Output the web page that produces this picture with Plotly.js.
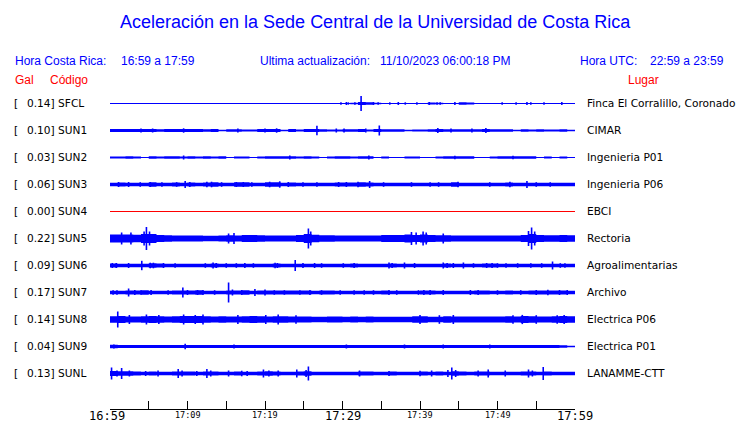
<!DOCTYPE html>
<html><head><meta charset="utf-8">
<script src="https://cdn.plot.ly/plotly-3.0.1.min.js"></script>
<style>html,body{margin:0;padding:0;background:#fff}#chart{width:740px;height:423px}</style>
</head><body><div id="chart"></div>
<script>
// ---------- data ----------
const codes = ["SFCL","SUN1","SUN2","SUN3","SUN4","SUN5","SUN6","SUN7","SUN8","SUN9","SUNL"];
const galValues = [0.14,0.10,0.03,0.06,0.00,0.22,0.09,0.17,0.14,0.04,0.13];
const places = ["Finca El Corralillo, Coronado","CIMAR","Ingenieria P01","Ingenieria P06","EBCI","Rectoria","Agroalimentarias","Archivo","Electrica P06","Electrica P01","LANAMME-CTT"];
const tickLabelMinutes = [0,10,20,30,40,50,60];
const tickLabelTexts = ["16:59","17:09","17:19","17:29","17:39","17:49","17:59"];

// per-minute envelope half-amplitude (px)
const sfclBand = [0.5,0.5,0.5,0.5,0.5,0.5,0.5,0.5,0.5,0.5, 0.5,0.5,0.5,0.5,0.5,0.5,0.5,0.5,0.5,0.5, 0.5,0.5,0.5,0.5,0.5,0.5,0.5,0.5,0.5,0.5, 0.6,0.8,1.5,1.2,0.7,0.5,0.6,0.6,0.6,0.6, 0.5,0.9,0.7,0.5,0.6,1.2,1.0,0.5,0.5,0.5, 0.6,0.5,0.6,0.6,0.6,0.5,0.6,0.5,0.6,0.5];
const sun1Band = [1.5,1.5,1.5,1.5,1.5,1.5,1.3,1.5,1.5,1.5, 1.5,1.5,1.2,1.5,0.8,1.3,1.3,0.9,0.9,1.5, 1.5,1.5,0.8,1.4,1.0,1.4,1.6,1.2,1.0,0.9, 1.3,1.3,1.5,0.9,1.4,1.3,1.2,1.2,0.8,1.0, 1.0,1.3,1.5,1.3,1.3,1.2,1.2,1.3,1.6,1.2, 1.2,1.2,0.8,1.2,1.0,1.2,1.1,1.0,1.2,0.8];
const sun2Band = [1.0,1.0,1.2,1.0,0.6,1.3,0.9,1.2,1.2,1.1, 1.3,1.0,1.2,1.0,1.3,0.6,0.9,0.9,0.6,0.9, 1.3,1.3,1.2,1.3,0.9,1.3,1.0,0.6,0.9,1.3, 1.3,1.0,1.3,1.3,0.6,0.9,0.6,0.6,0.9,0.9, 0.6,0.6,0.9,1.3,1.3,1.2,1.3,0.6,0.6,0.9, 1.2,1.3,1.2,1.3,1.2,0.6,0.9,0.6,0.9,0.6];
const sun3Band = [1.7,1.9,1.8,1.7,1.7,2.2,1.8,1.8,1.9,1.8, 1.9,1.7,1.9,2.2,1.8,1.7,2.2,2.2,1.8,1.7, 2.2,2.2,1.8,1.9,1.7,1.8,1.8,1.7,1.7,2.1, 2.1,2.0,2.2,1.9,1.7,1.8,1.7,1.7,1.8,1.7, 1.7,1.8,1.8,1.7,2.2,1.8,1.7,1.7,1.7,1.8, 1.7,2.1,1.7,1.8,1.8,1.7,1.8,1.7,1.7,1.7];
const sun4Band = [0,0,0,0,0,0,0,0,0,0, 0,0,0,0,0,0,0,0,0,0, 0,0,0,0,0,0,0,0,0,0, 0,0,0,0,0,0,0,0,0,0, 0,0,0,0,0,0,0,0,0,0, 0,0,0,0,0,0,0,0,0,0];
const sun5Band = [4.1,3.9,4.1,3.8,4.4,4.6,3.4,3.2,3.1,2.9, 2.9,3.0,2.8,2.8,2.9,3.2,3.1,3.4,3.4,3.2, 3.1,3.1,3.0,3.1,3.6,4.6,3.8,3.2,3.2,3.1, 3.1,3.1,3.0,3.1,3.1,3.4,3.4,3.6,3.9,3.6, 4.1,3.6,3.2,3.2,3.1,2.9,2.9,2.9,2.9,3.0, 2.9,3.0,3.1,3.4,4.4,3.6,3.3,3.3,3.4,3.3];
const sun6Band = [2.0,1.8,1.8,1.7,1.8,2.2,2.0,1.8,1.7,1.7, 1.7,1.7,1.8,2.0,1.7,1.7,1.8,1.8,1.7,1.7, 1.7,2.0,1.7,1.8,1.8,1.7,1.8,1.7,1.7,1.7, 1.8,2.0,1.7,1.7,1.7,1.7,2.0,1.8,1.7,1.8, 1.7,1.7,1.7,2.0,1.8,1.8,1.7,1.8,2.0,2.0, 1.8,1.7,1.8,1.7,1.8,1.7,1.8,1.8,1.8,1.7];
const sun7Band = [1.8,1.8,2.0,1.9,2.2,1.7,1.8,1.7,2.0,1.9, 2.1,2.2,1.8,1.7,1.7,2.0,2.1,2.2,1.8,1.9, 1.9,2.0,2.0,2.1,2.0,2.0,1.8,1.9,2.0,1.7, 1.7,1.8,1.7,1.7,1.8,1.9,1.7,1.7,1.7,1.7, 2.0,2.0,1.8,1.8,1.7,1.7,1.8,2.0,1.9,1.7, 1.7,1.9,1.8,1.7,2.0,2.0,2.1,2.1,2.0,1.8];
const sun8Band = [3.2,3.5,3.1,3.0,3.3,3.5,3.2,3.1,3.3,3.5, 3.5,3.6,3.2,3.0,3.2,3.1,3.0,3.2,3.4,3.2, 3.1,3.3,3.2,3.0,3.0,2.9,2.8,2.8,2.9,2.9, 2.7,2.9,2.7,3.0,2.7,2.7,2.7,2.7,2.7,3.2, 3.3,2.7,2.7,3.2,3.0,2.9,3.0,2.9,2.9,3.0, 2.9,3.2,3.0,3.5,3.3,3.0,3.0,3.3,3.5,3.2];
const sun9Band = [1.7,1.6,1.6,1.5,1.5,1.5,1.5,1.5,1.6,1.6, 1.6,1.5,1.5,1.5,1.5,1.5,1.5,1.5,1.5,1.6, 1.5,1.5,1.5,1.5,1.5,1.5,1.5,1.5,1.5,1.5, 1.5,1.5,1.6,1.5,1.5,1.6,1.5,1.5,1.5,1.5, 1.5,1.5,1.5,1.5,1.5,1.5,1.5,1.5,1.5,1.5, 1.5,1.5,1.5,1.5,1.5,1.5,1.5,1.5,1.3,0.8];
const sunlBand = [2.5,2.3,2.3,1.9,1.7,2.0,1.8,1.7,2.0,2.0, 2.1,1.8,2.0,2.0,1.7,1.8,2.0,1.8,1.8,2.0, 2.2,2.0,1.8,1.7,1.9,2.2,1.8,1.7,1.7,1.7, 1.7,1.7,2.0,2.0,1.7,1.8,1.9,1.7,1.7,1.8, 1.9,1.8,2.0,1.8,2.2,2.0,1.8,2.0,1.9,1.7, 1.7,1.8,1.7,1.9,2.1,1.8,1.9,1.7,1.7,1.7];

// individual spikes: time (minutes after 16:59) and half-amplitude (px)
const sfclSpikeT = [29.8,30.5,30.75,31.6,32.4,34.0,34.6,36.1,37.2,38.1,39.6,41.2,42.2,42.6,44.5,50.6,52.4,53.8,54.3,56.0,58.3];
const sfclSpikeA = [1.2,1.5,1.2,1.2,7.5,1.5,1.2,1.2,1.5,1.2,1.2,1.5,1.2,1.2,1.5,1.2,1.2,1.5,1.2,1.2,1.5];
const sun1SpikeT = [4.0,9.5,16.5,26.7,29.2,30.2,34.75,42.3,46.7,48.5,5.5,20.0,21.5,33.0,44.0];
const sun1SpikeA = [2.0,2.2,2.0,4.7,2.0,2.0,5.0,2.5,2.0,2.5,2.0,2.0,2.2,2.0,2.0];
const sun2SpikeT = [9.5,23.2,33.4,44.5,52.0];
const sun2SpikeA = [2.0,2.0,2.0,1.8,1.8];
const sun3SpikeT = [1.1,2.4,3.9,5.2,6.7,8.6,9.7,10.3,12.5,13.1,14.4,16.3,17.2,18.3,20.6,21.9,23.0,24.9,26.7,29.5,30.5,32.0,33.5,35.3,38.9,41.3,42.4,44.9,49.0,51.6,53.8,55.0,56.8];
const sun3SpikeA = [2.5,2.5,2.3,2.5,2.3,2.3,3.5,2.5,2.8,2.8,2.3,2.5,2.5,2.3,2.8,3.2,2.5,2.3,2.3,2.5,2.5,2.8,3.5,2.3,2.3,2.3,2.3,2.8,2.3,2.8,3.5,2.3,2.3];
const sun4SpikeT = [];
const sun4SpikeA = [];
const sun5SpikeT = [4.7,4.4,5.1,1.5,2.7,16.0,25.6,25.9,38.9,39.5,40.4,40.8,54.4,54.0,54.8,15.3,43.0];
const sun5SpikeA = [11.5,7,7,6,6,5.5,10,7,6.5,6,7,6,11,7.5,7,5,5];
const sun6SpikeT = [0.3,0.8,2.4,4.1,5.2,5.6,6.9,8.4,12.3,13.3,13.7,15.0,16.3,17.4,18.5,21.3,21.6,23.9,24.9,26.4,27.3,30.1,31.5,36.0,36.4,38.0,39.3,43.0,43.5,44.3,45.6,46.9,48.6,49.3,50.0,51.1,52.6,54.3,55.7,57.1,58.1,58.7];
const sun6SpikeA = [2.5,2.5,2.5,4.7,2.8,2.8,2.5,2.3,2.3,3.0,2.5,2.3,2.3,2.5,2.3,2.8,2.5,5.5,2.5,2.5,2.3,2.3,2.5,3.0,2.5,3.0,2.5,3.0,2.5,2.5,3.0,2.3,2.5,2.5,2.3,2.3,2.3,2.3,2.3,4.0,2.3,2.3];
const sun7SpikeT = [0.4,0.9,2.4,3.2,4.0,5.3,7.5,9.4,10.0,11.3,12.0,13.5,15.3,15.8,17.0,18.7,20.0,21.2,22.5,24.5,25.8,27.3,29.7,31.5,32.8,34.0,36.0,37.0,39.8,40.5,41.3,43.0,46.5,47.5,50.0,53.0,55.0,56.5,58.0,59.0];
const sun7SpikeA = [2.3,2.3,4.0,2.5,2.3,2.5,2.3,5.0,2.5,2.5,2.5,2.3,10.0,3.0,2.5,3.5,3.0,2.3,2.3,2.3,2.5,2.3,2.3,2.3,2.3,2.3,2.5,2.3,2.3,2.5,2.5,2.5,2.5,2.5,2.3,2.3,2.5,2.8,2.5,2.5];
const sun8SpikeT = [1.0,2.5,4.7,6.3,9.5,11.0,12.0,16.5,20.1,21.7,24.0,40.0,42.5,44.3,52.0,53.2,55.0,57.7,58.6];
const sun8SpikeA = [8.0,4.5,5.0,4.5,5.0,4.5,5.0,4.5,4.5,5.0,4.2,4.5,4.3,4.5,4.3,4.6,4.3,4.3,4.5];
const sun9SpikeT = [0.5,9.7,16.0,30.5,38.0,43.0,49.0];
const sun9SpikeA = [2.0,2.8,2.0,2.0,2.0,2.0,2.0];
const sunlSpikeT = [0.2,1.5,0.9,2.5,4.6,6.2,8.8,9.3,11.2,12.5,13.0,15.3,17.0,17.7,19.8,20.5,21.7,24.1,25.6,25.3,32.2,36.0,40.0,41.5,43.6,44.1,44.6,47.5,48.8,51.0,54.0,55.9,54.5];
const sunlSpikeA = [6.0,5.5,3.0,3.0,2.5,3.0,4.5,3.0,2.5,4.5,3.0,3.0,2.8,2.5,4.0,3.0,3.0,4.0,7.0,3.5,3.0,2.5,2.8,3.0,3.5,6.0,3.5,3.0,4.0,3.0,4.0,6.5,3.0];

// ---------- assembly ----------
const bands = [sfclBand,sun1Band,sun2Band,sun3Band,sun4Band,sun5Band,sun6Band,sun7Band,sun8Band,sun9Band,sunlBand];
const spikeTs = [sfclSpikeT,sun1SpikeT,sun2SpikeT,sun3SpikeT,sun4SpikeT,sun5SpikeT,sun6SpikeT,sun7SpikeT,sun8SpikeT,sun9SpikeT,sunlSpikeT];
const spikeAs = [sfclSpikeA,sun1SpikeA,sun2SpikeA,sun3SpikeA,sun4SpikeA,sun5SpikeA,sun6SpikeA,sun7SpikeA,sun8SpikeA,sun9SpikeA,sunlSpikeA];

const BLUE = "#0000ff", RED = "#ff0000";
const L = 110, R = 165, T = 90, B = 14, W = 740, H = 423;
const PW = W - L - R, PH = H - T - B;
const rowBase = i => -(13.5 + 27 * i);
const lineColor = i => (galValues[i] === 0 ? RED : BLUE);

const traces = [];
codes.forEach((code, i) => {
  const b = rowBase(i);
  const band = bands[i];
  const xs = band.map((_, k) => k).concat([band.length]);
  const ext = band.concat([band[band.length - 1]]);
  const col = lineColor(i);
  if (band.some(v => v > 0)) {
    traces.push({x: xs, y: ext.map(a => b - a), mode: "lines", line: {width: 0, shape: "hv", color: col}, hoverinfo: "skip"});
    traces.push({x: xs, y: ext.map(a => b + a), mode: "lines", line: {width: 0, shape: "hv", color: col}, fill: "tonexty", fillcolor: col, hoverinfo: "skip"});
  }
  traces.push({x: [0, 60], y: [b, b], mode: "lines", line: {width: 1, color: col}, hoverinfo: "skip"});
  const sx = [], sy = [];
  spikeTs[i].forEach((t, k) => { sx.push(t, t, null); sy.push(b + spikeAs[i][k], b - spikeAs[i][k], null); });
  if (sx.length) traces.push({x: sx, y: sy, mode: "lines", line: {width: 1.6, color: col}, hoverinfo: "skip"});
});

const px = v => (v - L) / PW;
const py = v => (H - B - v) / PH;
const ann = [];
const addText = (text, x, y, size, color, family, xanchor) => ann.push({
  text, xref: "paper", yref: "paper", x: px(x), y: py(y), xanchor: xanchor || "left", yanchor: "middle",
  showarrow: false, borderpad: 0, borderwidth: 0, font: {size, color, family}
});
const SANS = "Liberation Sans, Arial, sans-serif";
const DJ = "DejaVu Sans, sans-serif";

addText("Aceleración en la Sede Central de la Universidad de Costa Rica", 375, 22, 18, BLUE, SANS, "center");
addText("Hora Costa Rica:", 15, 61, 12, BLUE, SANS);
addText("16:59 a 17:59", 121, 61, 12, BLUE, SANS);
addText("Ultima actualización:", 260, 61, 12, BLUE, SANS);
addText("11/10/2023 06:00:18 PM", 380, 61, 12, BLUE, SANS);
addText("Hora UTC:", 580, 61, 12, BLUE, SANS);
addText("22:59 a 23:59", 650, 61, 12, BLUE, SANS);
addText("Gal", 15, 80, 12, RED, SANS);
addText("Código", 50, 80, 12, RED, SANS);
addText("Lugar", 628, 80, 12, RED, SANS);

codes.forEach((code, i) => {
  const y = 102.7 + 27 * i;
  addText("[", 14, y, 10.6, "#000", DJ);
  addText(galValues[i].toFixed(2) + "] " + code, 27, y, 10.6, "#000", DJ);
  addText(places[i], 587, y, 10.6, "#000", DJ);
});

tickLabelMinutes.forEach((m, k) => {
  const big = (m % 30 === 0);
  ann.push({text: tickLabelTexts[k], xref: "x", yref: "paper", x: m, y: 0, xanchor: "center", yanchor: "top",
    yshift: big ? 0 : -1, xshift: m === 0 ? -3 : 0,
    showarrow: false, borderpad: 0, borderwidth: 0,
    font: {size: big ? 12 : 8.5, color: "#000", family: "DejaVu Sans Mono, monospace"}});
});

const layout = {
  width: W, height: H, margin: {l: L, r: R, t: T, b: B, pad: 0},
  paper_bgcolor: "#fff", plot_bgcolor: "#fff", showlegend: false,
  xaxis: {range: [0, 60], tick0: 0, dtick: 5, ticks: "inside", ticklen: 8, tickwidth: 1, tickcolor: "#000",
    showline: true, linecolor: "#000", linewidth: 1, showgrid: false, zeroline: false, showticklabels: false, fixedrange: true},
  yaxis: {range: [-PH, 0], visible: false, fixedrange: true},
  annotations: ann
};
Plotly.newPlot("chart", traces, layout, {displayModeBar: false, staticPlot: true});
</script></body></html>
